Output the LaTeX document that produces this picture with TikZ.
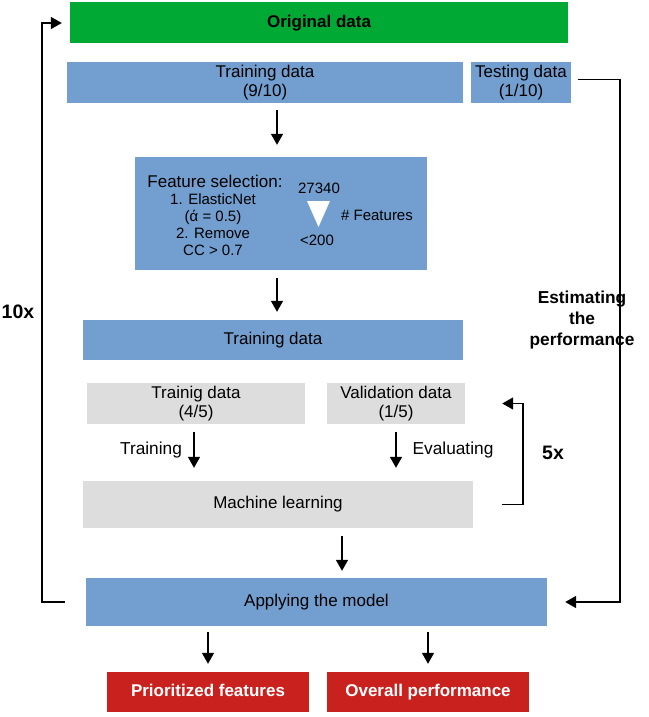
\documentclass[tikz,border=0pt]{standalone}
\usepackage{fontspec}
\setmainfont{Liberation Sans}
\usetikzlibrary{arrows.meta}

\definecolor{lblue}{HTML}{729FCF}
\definecolor{lgreen}{HTML}{00A933}
\definecolor{dred}{HTML}{C9211E}
\definecolor{lgray}{HTML}{DDDDDD}

\begin{document}
\begin{tikzpicture}[x=1pt,y=-1pt,
  box/.style={rectangle,inner sep=0pt,align=center,font=\fontsize{17}{19}\selectfont},
  bluebox/.style={box,fill=lblue},
  graybox/.style={box,fill=lgray},
  redbox/.style={box,fill=dred,text=white,text height=12.5pt,text depth=3.5pt,font=\fontsize{17}{19}\selectfont\bfseries},
  arr/.style={line width=1.5pt,-{Triangle[length=11pt,width=12pt]}},
  loopline/.style={line width=1.5pt,-{Triangle[length=11pt,width=12pt]}},
  bigtxt/.style={font=\fontsize{19.5}{22}\selectfont\bfseries}]
\useasboundingbox (0,0) rectangle (648,717);

% boxes
\node[box,fill=lgreen,minimum width=498pt,minimum height=41pt,font=\fontsize{17}{19}\selectfont\bfseries] (orig) at (319,23) {Original data};
\node[bluebox,minimum width=396pt,minimum height=41pt] (train) at (265,82.5) {Training data\\(9/10)};
\node[bluebox,minimum width=100pt,minimum height=41pt] (test) at (521,82.5) {Testing data\\(1/10)};
\node[bluebox,minimum width=292pt,minimum height=113pt] (fsel) at (281,213.5) {};
\node[bluebox,minimum width=380pt,minimum height=40pt] (train2) at (273,340) {Training data};
\node[graybox,minimum width=218pt,minimum height=41pt] (trsub) at (196,403.5) {Trainig data\\(4/5)};
\node[graybox,minimum width=138pt,minimum height=41pt] (valsub) at (396,403.5) {Validation data\\(1/5)};
\node[graybox,minimum width=390pt,minimum height=47pt] (ml) at (278,504.5) {Machine learning};
\node[bluebox,minimum width=461pt,minimum height=48pt] (apply) at (316.5,602) {Applying the model};
\node[redbox,minimum width=202pt,minimum height=40pt] (prio) at (208,692) {Prioritized features};
\node[redbox,minimum width=202pt,minimum height=40pt] (perf) at (428,692) {Overall performance};

% feature selection content
\node[font=\fontsize{17}{19}\selectfont] (fstitle) at (215,181) {Feature selection:};
\node[align=center,font=\fontsize{15}{16.8}\selectfont] (fsteps) at (213,224.5) {1. ElasticNet\\(ά = 0.5)\\2. Remove\\CC > 0.7};
\node[font=\fontsize{15}{17}\selectfont] (nhigh) at (319,188) {27340};
\node[font=\fontsize{15}{17}\selectfont] (nlow) at (317,240) {<200};
\node[font=\fontsize{15}{17}\selectfont] (nfeat) at (377,215) {\# Features};
\fill[white] (307,201) -- (330,201) -- (318.5,227) -- cycle;

% side labels
\node[bigtxt] (tenx) at (18,312) {10x};
\node[bigtxt] (fivex) at (553,453) {5x};
\node[align=center,font=\fontsize{17.3}{21}\selectfont\bfseries] (estim) at (582,320) {Estimating\\the\\performance};
\node[font=\fontsize{17.3}{19}\selectfont] (ltrain) at (151,450) {Training};
\node[font=\fontsize{17.3}{19}\selectfont] (leval) at (453,450) {Evaluating};

% arrows
\draw[arr,shorten <=7pt,shorten >=12pt] ([xshift=-4pt]fsel.north |- train.south) -- ([xshift=-4pt]fsel.north);
\draw[arr,shorten <=8pt,shorten >=8pt] ([xshift=-4pt]fsel.south) -- ([xshift=-4pt]fsel.south |- train2.north);
\draw[arr,shorten <=8pt,shorten >=13pt] ([xshift=-2pt]trsub.south) -- ([xshift=-2pt]trsub.south |- ml.north);
\draw[arr,shorten <=8pt,shorten >=13pt] (valsub.south) -- (valsub.south |- ml.north);
\draw[arr,shorten <=8pt,shorten >=7pt] ([xshift=64pt]ml.south) -- ([xshift=64pt]ml.south |- apply.north);
\draw[arr,shorten <=6pt,shorten >=8pt] (prio.north |- apply.south) -- (prio.north);
\draw[arr,shorten <=6pt,shorten >=8pt] (perf.north |- apply.south) -- (perf.north);

% loops
\draw[loopline] ([xshift=29pt]ml.east) -- ++(21,0) |- ([xshift=37pt]valsub.east);
\draw[loopline,shorten <=7pt,shorten >=18pt] ([yshift=3pt]test.east) -- ++(49,0) |- (apply.east);
\draw[loopline,shorten <=21pt,shorten >=8pt] (apply.west) -- ++(-44,0) |- (orig.west);
\end{tikzpicture}
\end{document}
